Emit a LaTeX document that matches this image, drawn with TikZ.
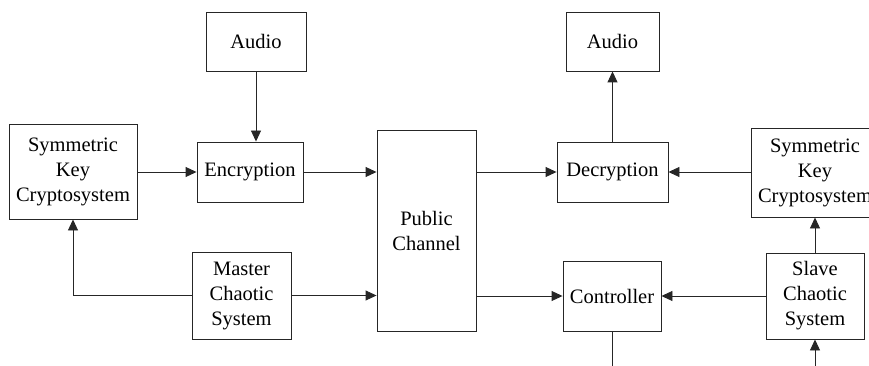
\documentclass[tikz,border=0pt]{standalone}
\usepackage{fontspec}
\setmainfont{Liberation Serif}
\usetikzlibrary{arrows.meta}
\begin{document}
\begin{tikzpicture}[x=1pt,y=-1pt,
  blockbox/.style={draw=black!85, line width=0.9pt, inner sep=0pt, align=center,
    font=\fontsize{20.5}{25}\selectfont},
  link/.style={draw=black!85, line width=0.9pt},
  flow/.style={link, -{Triangle[length=11pt,width=10pt]}}]
\useasboundingbox (0,0) rectangle (869,366);

% transmitter side
\node[blockbox, minimum width=100pt, minimum height=59pt] (audioL) at (256,41.5) {Audio};
\node[blockbox, minimum width=106pt, minimum height=60pt] (enc) at (250,172) {Encryption};
\node[blockbox, minimum width=128pt, minimum height=95pt] (skcL) at (73,171.5) {Symmetric\\Key\\Cryptosystem};
\node[blockbox, minimum width=99pt, minimum height=87pt] (master) at (241.5,295.5) {Master\\Chaotic\\System};

% channel
\node[blockbox, minimum width=99pt, minimum height=201pt] (pub) at (426.5,230.5) {Public\\Channel};

% receiver side
\node[blockbox, minimum width=93pt, minimum height=59pt] (audioR) at (612.5,41.5) {Audio};
\node[blockbox, minimum width=111pt, minimum height=60pt] (dec) at (612.5,172) {Decryption};
\node[blockbox, minimum width=128pt, minimum height=89pt] (skcR) at (815,172.5) {Symmetric\\Key\\Cryptosystem};
\node[blockbox, minimum width=98pt, minimum height=70pt] (ctrl) at (612,296) {Controller};
\node[blockbox, minimum width=98pt, minimum height=86pt] (slave) at (815,296) {Slave\\Chaotic\\System};

\coordinate (ctrlOut) at (612,366);
\coordinate (slaveIn) at (815,366);

% connectors
\draw[flow] (audioL.south) -- (audioL.south |- enc.north);
\draw[flow] (skcL.east |- enc.west) -- (enc.west);
\draw[flow] (enc.east) -- (pub.west |- enc.east);
\draw[flow] (master.west) -| (skcL.south);
\draw[flow] (master.east) -- (pub.west |- master.east);
\draw[flow] (pub.east |- dec.west) -- (dec.west);
\draw[flow] (dec.north) -- (audioR.south);
\draw[flow] (skcR.west |- dec.east) -- (dec.east);
\draw[flow] (pub.east |- ctrl.west) -- (ctrl.west);
\draw[flow] (slave.west) -- (ctrl.east);
\draw[flow] (slave.north) -- (skcR.south);
\draw[link] (ctrl.south) -- (ctrlOut);
\draw[flow] (slaveIn) -- (slave.south);
\end{tikzpicture}
\end{document}
